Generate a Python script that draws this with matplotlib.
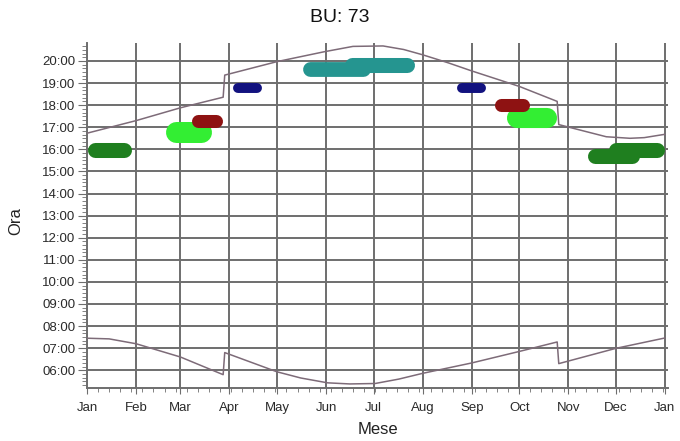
import matplotlib
matplotlib.use('Agg')
import matplotlib.pyplot as plt
from matplotlib.ticker import FixedLocator, MultipleLocator, FuncFormatter
import numpy as np

plt.rcParams['font.family'] = ['Liberation Sans', 'DejaVu Sans']

# Month axis (day of year)
month_labels = ['Jan', 'Feb', 'Mar', 'Apr', 'May', 'Jun', 'Jul', 'Aug', 'Sep', 'Oct', 'Nov', 'Dec', 'Jan']
month_days = [0, 31, 59, 90, 120, 151, 181, 212, 243, 273, 304, 334, 365]

# Upper curve (sunset), with daylight-saving jumps
sunset_days = [0, 31, 59, 86, 87, 120, 150, 168, 187, 200, 212, 228, 243, 273, 297, 298, 328, 343, 352, 365]
sunset_hours = [16.73, 17.30, 17.88, 18.36, 19.36, 19.97, 20.42, 20.66, 20.68, 20.52, 20.28, 19.92, 19.55,
                18.85, 18.17, 17.12, 16.57, 16.50, 16.53, 16.68]

# Lower curve (sunrise)
sunrise_days = [0, 14, 31, 59, 86, 87, 120, 135, 152, 166, 182, 197, 212, 243, 273, 297, 298, 334, 365]
sunrise_hours = [7.45, 7.42, 7.20, 6.60, 5.80, 6.80, 5.93, 5.65, 5.43, 5.38, 5.40, 5.60, 5.86, 6.33,
                 6.85, 7.28, 6.30, 6.99, 7.46]

# Activity blobs: day range and hour range
blob_start = [0.6, 49.3, 65.7, 92.2, 136.4, 162.9, 233.6, 265.2, 257.6, 316.4, 329.6]
blob_end = [28.4, 78.9, 85.9, 110.5, 178.7, 207.1, 252.0, 296.8, 279.7, 349.2, 365.0]
blob_top = [16.33, 17.24, 17.56, 19.00, 19.95, 20.18, 19.00, 17.86, 18.28, 16.06, 16.29]
blob_bottom = [15.65, 16.29, 16.97, 18.55, 19.28, 19.50, 18.55, 16.95, 17.69, 15.38, 15.61]

dk_green, lt_green, dk_red, navy, teal = '#1f7f1f', '#33ee33', '#8e1212', '#12127f', '#259590'
blob_colors = [dk_green, lt_green, dk_red, navy, teal, teal, navy, lt_green, dk_red, dk_green, dk_green]

fig = plt.figure(figsize=(6.8, 4.41), dpi=100)
ax = fig.add_axes([87 / 680, 1 - 387.7 / 441, 581 / 680, 344.4 / 441])
ax.set_xlim(0, 367)
ax.set_ylim(5.21, 20.8)

grid_col = '#6e6e6e'
ax.xaxis.set_major_locator(FixedLocator(month_days))
ax.set_xticklabels(month_labels)
ax.xaxis.set_minor_locator(FixedLocator(np.arange(0, 366, 7)))
ax.yaxis.set_major_locator(MultipleLocator(1))
ax.yaxis.set_minor_locator(MultipleLocator(1 / 6))
ax.yaxis.set_major_formatter(FuncFormatter(lambda v, p: '%02d:00' % round(v)))
ax.set_yticks(range(6, 21))
ax.grid(True, which='major', color=grid_col, lw=1.4)
ax.set_axisbelow(True)

for s in ['top', 'right']:
    ax.spines[s].set_visible(False)
for s in ['left', 'bottom']:
    ax.spines[s].set_color(grid_col)
    ax.spines[s].set_linewidth(1.4)

ax.tick_params(axis='both', which='major', colors=grid_col, labelcolor='#2a2a2a', labelsize=9.5)
ax.tick_params(axis='y', which='major', length=6.5, pad=2)
ax.tick_params(axis='y', which='minor', length=3.5, colors=grid_col)
ax.tick_params(axis='x', which='major', length=4.5, pad=6)
ax.tick_params(axis='x', which='minor', length=3, colors=grid_col)

# Blobs as rounded pills
bbox = ax.get_window_extent()
px_day = bbox.width / 367
px_hour = bbox.height / (20.8 - 5.21)
for d0, d1, hi, lo, c in zip(blob_start, blob_end, blob_top, blob_bottom, blob_colors):
    h_px = (hi - lo) * px_hour
    inset = min(h_px / 2 / px_day, (d1 - d0) / 2 - 0.01)
    ax.plot([d0 + inset, d1 - inset], [(hi + lo) / 2] * 2, color=c,
            lw=h_px * 72 / fig.dpi, solid_capstyle='round', zorder=3)

line_col = '#7d6b78'
ax.plot(sunset_days, sunset_hours, color=line_col, lw=1.1, zorder=4)
ax.plot(sunrise_days, sunrise_hours, color=line_col, lw=1.1, zorder=4)

fig.text(0.5, 1 - 18 / 441, 'BU: 73', ha='center', va='center', fontsize=14, color='#111111')
ax.set_xlabel('Mese', fontsize=12, color='#222222')
ax.xaxis.label.set_va('center')
ax.xaxis.set_label_coords(0.5, (441 - 430 - 53.3) / 344.4)
ax.set_ylabel('Ora', fontsize=12, color='#222222')
ax.yaxis.label.set_va('center')
ax.yaxis.set_label_coords((16 - 87) / 581, (441 - 221 - 53.3) / 344.4)

fig.savefig('out.png', dpi=100)
